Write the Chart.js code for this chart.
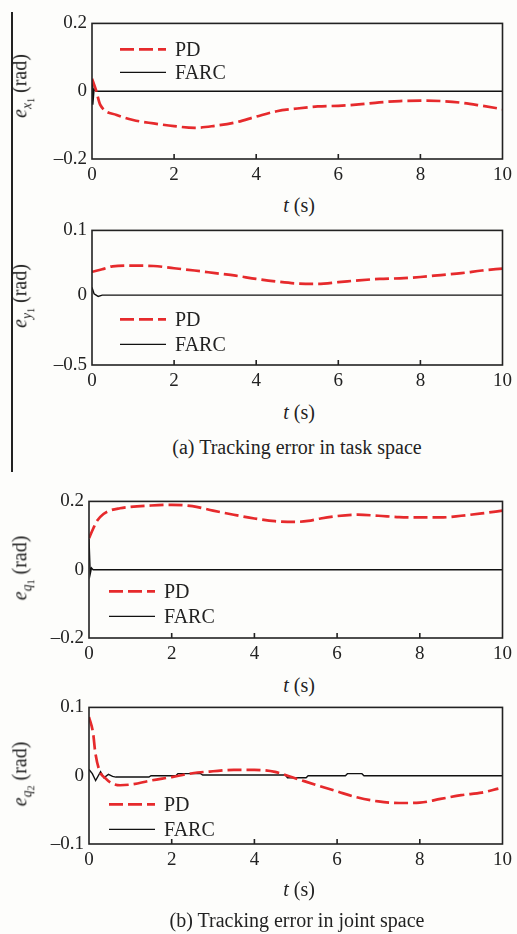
<!DOCTYPE html>
<html>
<head>
<meta charset="utf-8">
<title>Tracking error</title>
<script src="https://cdn.jsdelivr.net/npm/chart.js@4.4.0/dist/chart.umd.min.js"></script>
<style>
    body { margin: 0; background: #fdfdfb; }
    #page { position: relative; width: 517px; height: 934px; overflow: hidden; background: #fdfdfb;
            font-family: "Liberation Serif", "Times New Roman", serif; color: #222; }
    .panel { position: absolute; left: 0; }
    .ytitle { position: absolute; font-size: 20px; white-space: nowrap; transform: translate(-50%, -50%) rotate(-90deg); }
    .xtitle, .caption { position: absolute; white-space: nowrap; font-size: 20px; transform: translate(-50%, -50%); }
    .sub { font-size: 0.68em; vertical-align: -0.35em; }
    .sub2 { font-size: 0.75em; vertical-align: -0.25em; }
    #rule { position: absolute; left: 11px; top: 12px; width: 1.5px; height: 460px; background: #222; }
</style>
</head>
<body>
<div id="page">
    <div id="rule"></div>

    <canvas id="c1" class="panel"></canvas>
    <div class="ytitle" style="left:22px;top:86px"><i>e</i><span class="sub"><i>x</i><span class="sub2">1</span></span> (rad)</div>
    <div class="xtitle" style="left:299px;top:205px"><i>t</i> (s)</div>

    <canvas id="c2" class="panel"></canvas>
    <div class="ytitle" style="left:22px;top:296px"><i>e</i><span class="sub"><i>y</i><span class="sub2">1</span></span> (rad)</div>
    <div class="xtitle" style="left:299px;top:412px"><i>t</i> (s)</div>
    <div class="caption" style="left:297px;top:447px">(a) Tracking error in task space</div>

    <canvas id="c3" class="panel"></canvas>
    <div class="ytitle" style="left:22px;top:568px"><i>e</i><span class="sub"><i>q</i><span class="sub2">1</span></span> (rad)</div>
    <div class="xtitle" style="left:299px;top:685px"><i>t</i> (s)</div>

    <canvas id="c4" class="panel"></canvas>
    <div class="ytitle" style="left:22px;top:774px"><i>e</i><span class="sub"><i>q</i><span class="sub2">2</span></span> (rad)</div>
    <div class="xtitle" style="left:299px;top:889px"><i>t</i> (s)</div>
    <div class="caption" style="left:297px;top:920px">(b) Tracking error in joint space</div>
</div>

<script>
// ---- data ----
const X_TICKS = [0, 2, 4, 6, 8, 10];

// (a) e_x1
const T1_PD   = [0, 0.1, 0.2, 0.6, 1, 1.5, 2, 2.5, 3, 3.5, 4, 4.5, 5, 5.5, 6, 6.5, 7, 7.5, 8, 8.5, 9, 9.5, 10];
const E1_PD   = [0.037, 0.002, -0.04, -0.07, -0.085, -0.095, -0.103, -0.108, -0.102, -0.092, -0.075, -0.059, -0.051, -0.045, -0.043, -0.039, -0.033, -0.029, -0.028, -0.029, -0.034, -0.043, -0.053];
const T1_FARC = [0, 0.02, 0.05, 0.1, 10];
const E1_FARC = [0.03, -0.04, 0.005, 0, 0];
const Y1_TICKS  = [-0.2, 0, 0.2];
const Y1_LABELS = ['–0.2', '0', '0.2'];

// (a) e_y1
const T2_PD   = [0, 0.25, 0.5, 1, 1.5, 2, 2.5, 3, 3.5, 4, 4.5, 5, 5.5, 6, 6.5, 7, 7.5, 8, 8.5, 9, 9.5, 10];
const E2_PD   = [0.036, 0.04, 0.0445, 0.0455, 0.045, 0.0415, 0.038, 0.034, 0.03, 0.025, 0.021, 0.018, 0.0175, 0.02, 0.0228, 0.025, 0.026, 0.028, 0.031, 0.034, 0.038, 0.041];
const T2_FARC = [0, 0.05, 0.15, 0.25, 10];
const E2_FARC = [0.012, 0.002, -0.002, 0, 0];
const Y2_TICKS  = [-0.108, 0, 0.1];
const Y2_LABELS = ['–0.5', '0', '0.1'];

// (b) e_q1
const T3_PD   = [0, 0.1, 0.2, 0.35, 0.5, 0.75, 1, 1.5, 2, 2.5, 3, 3.5, 4, 4.5, 5, 5.3, 5.6, 6, 6.5, 7, 7.5, 8, 8.5, 9, 9.5, 10];
const E3_PD   = [0.092, 0.12, 0.144, 0.163, 0.173, 0.18, 0.184, 0.188, 0.19, 0.186, 0.173, 0.161, 0.15, 0.142, 0.14, 0.143, 0.15, 0.157, 0.161, 0.158, 0.154, 0.153, 0.153, 0.158, 0.165, 0.173];
const T3_FARC = [0, 0.03, 0.06, 0.1, 10];
const E3_FARC = [0.09, -0.012, 0.005, 0, 0];
const Y3_TICKS  = [-0.2, 0, 0.2];
const Y3_LABELS = ['–0.2', '0', '0.2'];

// (b) e_q2
const T4_PD   = [0, 0.1, 0.15, 0.25, 0.4, 0.55, 0.75, 1, 1.5, 2, 2.5, 3, 3.5, 4, 4.5, 5, 5.5, 6, 6.5, 7, 7.5, 8, 8.5, 9, 9.5, 9.9];
const E4_PD   = [0.086, 0.062, 0.035, 0.008, -0.004, -0.011, -0.014, -0.013, -0.007, -0.002, 0.0036, 0.0065, 0.0085, 0.0085, 0.0055, -0.004, -0.0137, -0.023, -0.032, -0.0377, -0.04, -0.0395, -0.034, -0.0285, -0.0247, -0.019];
const T4_FARC = [0, 0.08, 0.16, 0.28, 0.36, 0.47, 0.57, 0.65, 1.45, 1.5, 2.1, 2.15, 2.7, 2.75, 4.75, 4.8, 5.25, 5.3, 6.2, 6.25, 6.6, 6.65, 10];
const E4_FARC = [0.009, 0.003, -0.007, 0.006, -0.003, 0.002, -0.001, -0.002, -0.002, 0, 0, 0.003, 0.003, 0.001, 0.001, -0.003, -0.003, 0, 0, 0.003, 0.003, 0, 0];
const Y4_TICKS  = [-0.1, 0, 0.1];
const Y4_LABELS = ['–0.1', '0', '0.1'];

const RED = '#e62a2c';
const INK = '#222';
const FONT = { family: '"Liberation Serif", "Times New Roman", serif', size: 19 };

function pts(ts, es) {
    return ts.map((t, i) => ({ x: t, y: es[i] }));
}

// box round the plot area plus inward ticks on the time axis
const framePlugin = {
    id: 'frame',
    afterDatasetsDraw(chart) {
        const { ctx, chartArea: a, scales } = chart;
        ctx.save();
        ctx.strokeStyle = INK;
        ctx.lineWidth = 1.6;
        ctx.setLineDash([]);
        ctx.strokeRect(a.left, a.top, a.right - a.left, a.bottom - a.top);
        ctx.beginPath();
        X_TICKS.slice(1, -1).forEach(v => {
            const x = scales.x.getPixelForValue(v);
            ctx.moveTo(x, a.bottom);
            ctx.lineTo(x, a.bottom - 5);
        });
        ctx.stroke();
        ctx.restore();
    }
};

// legend inside the plot, drawn with each dataset's own line style
const keyPlugin = {
    id: 'key',
    afterDraw(chart, args, opts) {
        const { ctx, chartArea: a } = chart;
        ctx.save();
        ctx.font = `${FONT.size + 1}px ${FONT.family}`;
        ctx.textBaseline = 'middle';
        ctx.fillStyle = INK;
        chart.data.datasets.forEach((ds, i) => {
            const y = a.top + opts.rows[i];
            const x = a.left + opts.dx;
            ctx.strokeStyle = ds.borderColor;
            ctx.lineWidth = ds.borderWidth;
            ctx.setLineDash(ds.borderDash || []);
            ctx.beginPath();
            ctx.moveTo(x, y);
            ctx.lineTo(x + 46, y);
            ctx.stroke();
            ctx.fillText(ds.label, x + 55, y + 1);
        });
        ctx.restore();
    }
};

function makePanel(id, box, series, yTicks, yLabels, key) {
    const padTop = 14, xAxisH = 34;
    const canvas = document.getElementById(id);
    canvas.width = 517;
    canvas.height = (box.bottom - box.top) + padTop + xAxisH;
    canvas.style.top = (box.top - padTop) + 'px';

    new Chart(canvas.getContext('2d'), {
        type: 'line',
        data: {
            datasets: [{
                label: 'PD',
                data: pts(series.tPD, series.ePD),
                borderColor: RED,
                borderWidth: 2.7,
                borderDash: [14, 5],
                pointRadius: 0,
                cubicInterpolationMode: 'monotone',
                fill: false
            }, {
                label: 'FARC',
                data: pts(series.tF, series.eF),
                borderColor: '#111',
                borderWidth: 1.4,
                pointRadius: 0,
                tension: 0,
                fill: false
            }]
        },
        options: {
            responsive: false,
            animation: false,
            devicePixelRatio: 1,
            layout: { padding: { top: padTop, right: 517 - box.right, left: 0, bottom: 0 } },
            plugins: {
                legend: { display: false },
                tooltip: { enabled: false },
                key: key
            },
            scales: {
                x: {
                    type: 'linear',
                    min: 0,
                    max: 10,
                    afterBuildTicks: s => { s.ticks = X_TICKS.map(v => ({ value: v })); },
                    ticks: { font: FONT, color: INK, padding: 5, maxRotation: 0, autoSkip: false },
                    grid: { display: false, drawTicks: false },
                    border: { display: false },
                    afterFit: s => { s.height = xAxisH; }
                },
                y: {
                    min: yTicks[0],
                    max: yTicks[yTicks.length - 1],
                    afterBuildTicks: s => { s.ticks = yTicks.map(v => ({ value: v })); },
                    ticks: {
                        font: FONT, color: INK, padding: 5,
                        callback: (v, i) => yLabels[i]
                    },
                    grid: { display: false, drawTicks: false },
                    border: { display: false },
                    afterFit: s => { s.width = box.left; }
                }
            }
        },
        plugins: [framePlugin, keyPlugin]
    });
}

makePanel('c1', { left: 92, right: 508, top: 21, bottom: 159 },
    { tPD: T1_PD, ePD: E1_PD, tF: T1_FARC, eF: E1_FARC }, Y1_TICKS, Y1_LABELS,
    { dx: 28, rows: [26, 49] });
makePanel('c2', { left: 92, right: 508, top: 228, bottom: 365 },
    { tPD: T2_PD, ePD: E2_PD, tF: T2_FARC, eF: E2_FARC }, Y2_TICKS, Y2_LABELS,
    { dx: 28, rows: [89, 114] });
makePanel('c3', { left: 89, right: 507, top: 499, bottom: 638 },
    { tPD: T3_PD, ePD: E3_PD, tF: T3_FARC, eF: E3_FARC }, Y3_TICKS, Y3_LABELS,
    { dx: 20, rows: [90, 115] });
makePanel('c4', { left: 89, right: 507, top: 705, bottom: 844 },
    { tPD: T4_PD, ePD: E4_PD, tF: T4_FARC, eF: E4_FARC }, Y4_TICKS, Y4_LABELS,
    { dx: 20, rows: [97, 122] });
</script>
</body>
</html>
